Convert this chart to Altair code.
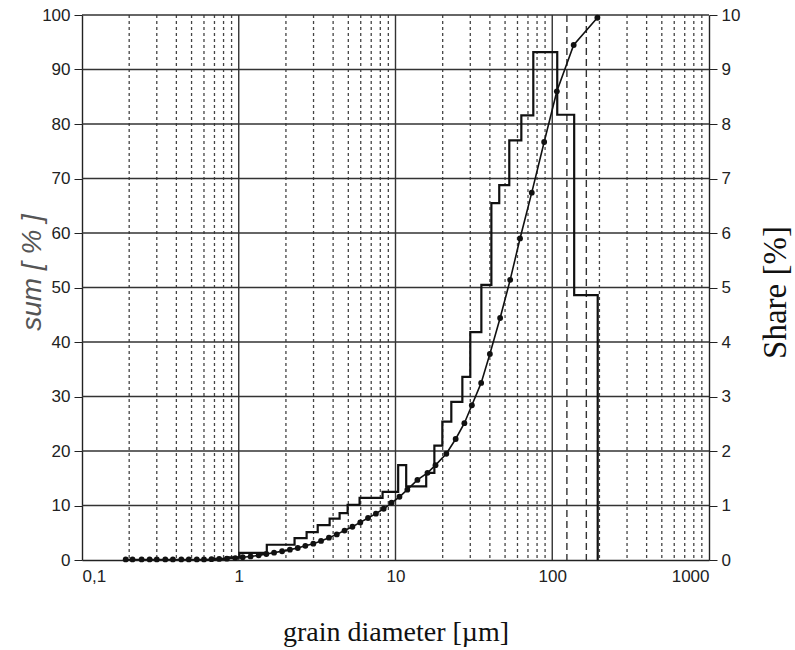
import altair as alt
import pandas as pd

# ---- data ----
cum_diam = [0.19, 0.21, 0.24, 0.27, 0.30, 0.34, 0.38, 0.43, 0.48, 0.54, 0.60, 0.67, 0.75, 0.84, 0.95,
            1.06, 1.19, 1.34, 1.50, 1.68, 1.89, 2.12, 2.38, 2.66, 2.99, 3.35, 3.76, 4.22, 4.73, 5.31,
            5.96, 6.68, 7.50, 8.41, 9.44, 10.6, 11.9, 13.8, 16.0, 18.0, 21.1, 24.2, 27.5, 30.7, 35.2,
            40.0, 46.5, 53.9, 62.3, 74.0, 88.8, 107, 137, 194]
cum_sum = [0.1, 0.1, 0.1, 0.1, 0.1, 0.1, 0.1, 0.1, 0.1, 0.1, 0.1, 0.15, 0.2, 0.25, 0.35,
           0.5, 0.65, 0.85, 1.1, 1.35, 1.6, 1.9, 2.2, 2.6, 3.0, 3.5, 4.1, 4.7, 5.4, 6.1,
           6.9, 7.7, 8.5, 9.4, 10.5, 11.6, 12.9, 14.7, 16.0, 17.4, 19.5, 22.2, 25.1, 28.4, 32.5,
           37.8, 44.4, 51.4, 59.0, 67.4, 76.7, 86.0, 94.5, 99.5]

hist_edges = [0.6, 0.7, 0.83, 1.01, 1.51, 2.27, 2.71, 3.19, 3.80, 4.40, 4.95, 5.90, 8.27, 10.4, 11.7,
              15.7, 17.7, 19.9, 22.7, 26.7, 30.0, 35.3, 40.9, 45.9, 53.2, 63.5, 75.7, 107.6, 138, 195]
hist_share = [0.0, 0.02, 0.05, 0.13, 0.28, 0.40, 0.51, 0.64, 0.76, 0.86, 1.01, 1.14, 1.25, 1.74, 1.35,
              1.60, 2.10, 2.54, 2.90, 3.36, 4.18, 5.05, 6.55, 6.88, 7.70, 8.16, 9.32, 8.17, 4.86]

minor_lines = [0.2, 0.3, 0.4, 0.5, 0.6, 0.7, 0.8, 0.9,
               2, 3, 4, 5, 6, 7, 8, 9,
               20, 30, 40, 50, 60, 70, 80, 90,
               200, 300, 400, 500, 600, 700, 800, 900]
major_lines = [1, 10, 100]
marker_lines = [124, 165]
y_grid = [10, 20, 30, 40, 50, 60, 70, 80, 90, 100]
left_ticks = [0, 10, 20, 30, 40, 50, 60, 70, 80, 90, 100]
right_ticks = [0, 1, 2, 3, 4, 5, 6, 7, 8, 9, 10]
x_tick_values = [0.1, 1, 10, 100, 1000]
x_tick_labels = ["0,1", "1", "10", "100", "1000"]

SERIF = "Liberation Serif, Times New Roman, Times, serif"
SANS = "Liberation Sans, Arial, Helvetica, sans-serif"

# ---- tables ----
cum_df = pd.DataFrame({"d": cum_diam, "sum": cum_sum})
hist_df = pd.DataFrame({"d": hist_edges, "share": hist_share + [0.0]})
minor_df = pd.DataFrame({"d": minor_lines})
major_df = pd.DataFrame({"d": major_lines})
marker_df = pd.DataFrame({"d": marker_lines})
ygrid_df = pd.DataFrame({"v": y_grid})

label_expr = ""
for v, l in zip(x_tick_values, x_tick_labels):
    label_expr += f"datum.value == {v} ? '{l}' : "
label_expr += "''"

W, H = 627, 545
xscale = alt.Scale(type="log", domain=[0.1, 1000], nice=False)
ysum = alt.Scale(domain=[0, 100], nice=False)
yshare = alt.Scale(domain=[0, 10], nice=False)

x_axis = alt.Axis(values=x_tick_values, labelExpr=label_expr, grid=False, ticks=False,
                  labelFont=SANS, labelFontSize=17, labelColor="#222",
                  labelPadding=8, domainColor="#222", domainWidth=1.4,
                  title="grain diameter [µm]", titleFont=SERIF,
                  titleFontSize=28, titleFontWeight="normal", titleColor="#111",
                  titleY=72, titleBaseline="middle")

minor = alt.Chart(minor_df).mark_rule(color="#444", strokeWidth=1.3, strokeDash=[3, 3]).encode(
    x=alt.X("d:Q", scale=xscale, axis=x_axis))
markers = alt.Chart(marker_df).mark_rule(color="#333", strokeWidth=1.4, strokeDash=[7, 4]).encode(
    x=alt.X("d:Q", scale=xscale))
major = alt.Chart(major_df).mark_rule(color="#333", strokeWidth=1.4).encode(
    x=alt.X("d:Q", scale=xscale))
ygrid = alt.Chart(ygrid_df).mark_rule(color="#333", strokeWidth=1.4).encode(
    y=alt.Y("v:Q", scale=ysum, axis=None))

hist = alt.Chart(hist_df).mark_line(interpolate="step-after", color="#111", strokeWidth=2.2).encode(
    x=alt.X("d:Q", scale=xscale),
    y=alt.Y("share:Q", scale=yshare,
            axis=alt.Axis(orient="right", values=right_ticks, grid=False, tickSize=8,
                          tickColor="#222", domainColor="#222", domainWidth=1.4,
                          labelFont=SANS, labelFontSize=17, labelColor="#222",
                          labelPadding=4, title="Share   [%]", titleFont=SERIF,
                          titleFontSize=33, titleFontWeight="normal", titleColor="#111",
                          titleAngle=270, titleX=66, titleY=277,
                          titleAlign="center", titleBaseline="middle")))

cum = alt.Chart(cum_df).mark_line(color="#111", strokeWidth=1.6,
                                  point=alt.OverlayMarkDef(filled=True, size=34, color="#111")).encode(
    x=alt.X("d:Q", scale=xscale),
    y=alt.Y("sum:Q", scale=ysum,
            axis=alt.Axis(orient="left", values=left_ticks, grid=False, tickSize=8,
                          tickColor="#222", domainColor="#222", domainWidth=1.4,
                          labelFont=SANS, labelFontSize=17, labelColor="#222",
                          labelPadding=4, title="sum  [ % ]", titleFont=SANS,
                          titleFontSize=28, titleFontStyle="italic", titleFontWeight="normal",
                          titleColor="#555", titleX=-50, titleY=257,
                          titleAlign="center", titleBaseline="middle")))

chart = alt.layer(minor, markers, major, ygrid, hist, cum).resolve_scale(y="independent").properties(
    width=W, height=H,
    autosize=alt.AutoSizeParams(type="none"),
    padding={"left": 82, "top": 15, "right": 86, "bottom": 90},
    background="white",
).configure_view(stroke=None)

chart.save("out.html", embed_options={"renderer": "svg", "actions": False})
